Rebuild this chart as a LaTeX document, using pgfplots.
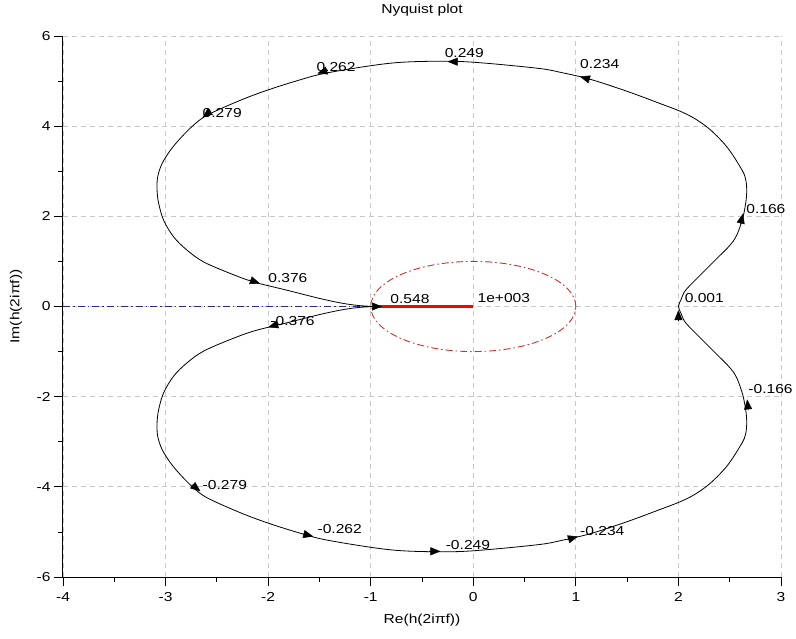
\documentclass[border=0pt]{standalone}
\usepackage{fontspec}
\setmainfont{Liberation Sans}[FakeStretch=1.2]
\usepackage{pgfplots}
\usepackage{pgfplotstable}
\pgfplotsset{compat=1.18}
\usetikzlibrary{arrows.meta}

\definecolor{gridgray}{RGB}{200,200,200}
\definecolor{ellred}{RGB}{205,45,45}
\definecolor{navyblue}{RGB}{40,40,150}

\pgfplotstableread{
x y
-0.955 0.000
-1.101 -0.018
-1.264 -0.067
-1.491 -0.175
-1.816 -0.361
-2.141 -0.545
-2.368 -0.732
-2.629 -0.989
-2.790 -1.248
-2.921 -1.543
-3.019 -1.914
-3.067 -2.284
-3.083 -2.579
-3.077 -2.874
-3.034 -3.171
-2.953 -3.466
-2.860 -3.720
-2.739 -3.998
-2.596 -4.242
-2.271 -4.574
-2.011 -4.796
-1.735 -4.996
-1.459 -5.166
-0.972 -5.350
-0.646 -5.424
-0.192 -5.439
0.166 -5.388
0.653 -5.277
0.848 -5.195
1.140 -5.040
1.498 -4.774
1.823 -4.500
2.018 -4.330
2.154 -4.175
2.278 -3.982
2.378 -3.776
2.473 -3.539
2.544 -3.310
2.602 -3.095
2.641 -2.933
2.661 -2.756
2.666 -2.534
2.661 -2.379
2.646 -2.157
2.627 -1.958
2.602 -1.780
2.573 -1.603
2.534 -1.448
2.476 -1.293
2.407 -1.137
2.329 -0.960
2.251 -0.783
2.173 -0.605
2.105 -0.450
2.056 -0.317
2.027 -0.162
2.000 0.000
2.027 0.162
2.056 0.317
2.105 0.450
2.173 0.605
2.251 0.783
2.329 0.960
2.407 1.137
2.476 1.293
2.534 1.448
2.573 1.603
2.602 1.780
2.627 1.958
2.646 2.157
2.661 2.379
2.666 2.534
2.661 2.756
2.641 2.933
2.602 3.095
2.544 3.310
2.473 3.539
2.378 3.776
2.278 3.982
2.154 4.175
2.018 4.330
1.823 4.500
1.498 4.774
1.140 5.040
0.848 5.195
0.653 5.277
0.166 5.388
-0.192 5.439
-0.646 5.424
-0.972 5.350
-1.459 5.166
-1.735 4.996
-2.011 4.796
-2.271 4.574
-2.596 4.242
-2.739 3.998
-2.860 3.720
-2.953 3.466
-3.034 3.171
-3.077 2.874
-3.083 2.579
-3.067 2.284
-3.019 1.914
-2.921 1.543
-2.790 1.248
-2.629 0.989
-2.368 0.732
-2.141 0.545
-1.816 0.361
-1.491 0.175
-1.264 0.067
-1.101 0.018
-0.955 0.000
}\curvetab

\pgfplotstableread{
x y u v
2.000 -0.324 0.000 0.244
2.604 1.823 0.026 0.237
1.143 5.030 -0.103 0.070
-0.143 5.430 -0.107 0.000
-1.417 5.240 -0.103 -0.070
-2.556 4.342 -0.084 -0.152
-2.181 0.590 0.101 -0.080
-0.997 0.000 0.107 0.000
-1.897 -0.390 -0.103 -0.070
-2.744 -3.948 0.084 -0.152
-1.664 -5.041 0.104 -0.059
-0.427 -5.430 0.107 0.000
0.917 -5.170 0.103 0.070
2.680 -2.303 -0.010 0.243
}\arrowtab

\pgfplotstableread{
x y label
2.06 0.18 0.001
2.66 2.17 0.166
1.04 5.37 0.234
-0.28 5.62 0.249
-1.53 5.32 0.262
-2.64 4.30 0.279
-2.00 0.64 0.376
-0.81 0.16 0.548
0.04 0.18 1e+003
-1.98 -0.33 -0.376
-2.64 -3.95 -0.279
-1.52 -4.94 -0.262
-0.27 -5.28 -0.249
1.04 -4.97 -0.234
2.68 -1.82 -0.166
}\labeltab

\begin{document}
\begin{tikzpicture}[font=\fontsize{13}{15}\selectfont]
\begin{axis}[
  scale only axis, width=718pt, height=541pt,
  xmin=-4, xmax=3, ymin=-6, ymax=6,
  axis x line=bottom, axis y line=left,
  axis line style={-, line width=1pt, black},
  xtick={-4,-3,...,3}, ytick={-6,-4,...,6},
  minor x tick num=1, minor y tick num=1,
  tick align=outside, major tick length=9pt, minor tick length=5pt,
  tick style={black, line width=0.8pt},
  grid=major,
  major grid style={gridgray, dash pattern=on 5pt off 4pt, line width=0.8pt},
  title={Nyquist plot},
  title style={at={(axis description cs:0.5,1.0296)}, anchor=base},
  xlabel={Re(h(2iπf))},
  xlabel style={at={(axis description cs:0.5,-0.0795)}, anchor=center},
  ylabel={Im(h(2iπf))},
  ylabel style={at={(axis description cs:-0.0655,0.5)}, anchor=center, rotate=0},
  ticklabel style={font=\fontsize{13}{15}\selectfont},
  xticklabel style={yshift=-3pt},
  /pgf/number format/assume math mode=true,
  clip=false,
]
\addplot[navyblue, line width=0.9pt, dash pattern=on 7pt off 3pt on 1.5pt off 3pt] coordinates {(-4,0) (-0.98,0)};
\draw[ellred, line width=0.9pt, dash pattern=on 7pt off 3pt on 1.5pt off 3pt] (axis cs:0,0) ellipse [x radius=1, y radius=1];
\addplot[black, line width=0.8pt, smooth, tension=0.55, mark=none] table {\curvetab};
\addplot[red, line width=3pt, mark=none] coordinates {(-0.98,0) (0,0)};
\addplot[black, line width=0.5pt, quiver={u=\thisrow{u}, v=\thisrow{v}}, -{Triangle[length=10pt,width=8pt]}] table {\arrowtab};
\addplot[draw=none, mark=none, nodes near coords, point meta=explicit symbolic,
  every node near coord/.append style={anchor=west, inner sep=0pt, font=\fontsize{13}{15}\selectfont, black}]
  table[meta=label] {\labeltab};
\coordinate (sw) at (rel axis cs:0,0);
\coordinate (ne) at (rel axis cs:1,1);
\end{axis}
\path ([shift={(-63pt,-61pt)}]sw) rectangle ([shift={(15pt,36pt)}]ne);
\end{tikzpicture}
\end{document}
